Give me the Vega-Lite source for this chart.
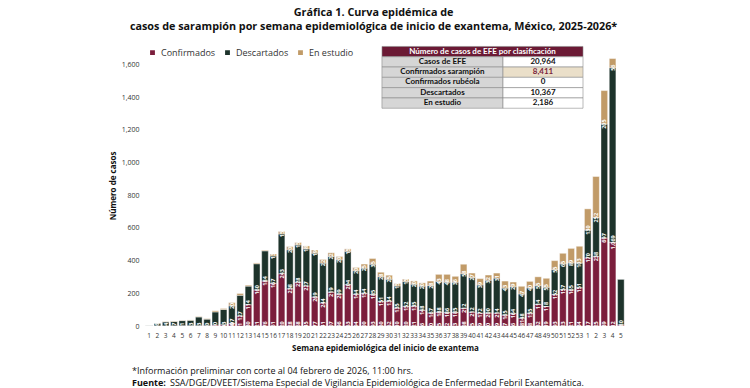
{
  "$schema": "https://vega.github.io/schema/vega-lite/v6.json",
  "padding": {"left": 109, "top": 7, "right": 10, "bottom": 4},
  "autosize": {"type": "pad"},
  "background": "white",
  "config": {
    "view": {"stroke": null},
    "font": "Open Sans",
    "axis": {"grid": false}
  },
  "title": {
    "text": ["Gráfica 1. Curva epidémica de", "casos de sarampión por semana epidemiológica de inicio de exantema, México, 2025-2026*"],
    "font": "Open Sans",
    "fontSize": 10.8,
    "fontWeight": "bold",
    "lineHeight": 14,
    "anchor": "middle",
    "offset": 13,
    "color": "#111111"
  },
  "center": true,
  "spacing": 12,
  "resolve": {"scale": {"color": "independent"}, "legend": {"color": "independent"}},
  "datasets": {
    "semanas": [
      {"semana": "2025-01", "Confirmados": 0, "Descartados": 3, "En estudio": 0},
      {"semana": "2025-02", "Confirmados": 1, "Descartados": 16, "En estudio": 1},
      {"semana": "2025-03", "Confirmados": 1, "Descartados": 24, "En estudio": 2},
      {"semana": "2025-04", "Confirmados": 1, "Descartados": 27, "En estudio": 2},
      {"semana": "2025-05", "Confirmados": 2, "Descartados": 31, "En estudio": 2},
      {"semana": "2025-06", "Confirmados": 2, "Descartados": 33, "En estudio": 2},
      {"semana": "2025-07", "Confirmados": 2, "Descartados": 53, "En estudio": 3},
      {"semana": "2025-08", "Confirmados": 2, "Descartados": 40, "En estudio": 3},
      {"semana": "2025-09", "Confirmados": 6, "Descartados": 80, "En estudio": 7},
      {"semana": "2025-10", "Confirmados": 8, "Descartados": 93, "En estudio": 6},
      {"semana": "2025-11", "Confirmados": 16, "Descartados": 107, "En estudio": 20},
      {"semana": "2025-12", "Confirmados": 61, "Descartados": 127, "En estudio": 11},
      {"semana": "2025-13", "Confirmados": 130, "Descartados": 114, "En estudio": 6},
      {"semana": "2025-14", "Confirmados": 221, "Descartados": 160, "En estudio": 5},
      {"semana": "2025-15", "Confirmados": 276, "Descartados": 184, "En estudio": 4},
      {"semana": "2025-16", "Confirmados": 261, "Descartados": 167, "En estudio": 13},
      {"semana": "2025-17", "Confirmados": 320, "Descartados": 243, "En estudio": 15},
      {"semana": "2025-18", "Confirmados": 228, "Descartados": 238, "En estudio": 20},
      {"semana": "2025-19", "Confirmados": 268, "Descartados": 228, "En estudio": 15},
      {"semana": "2025-20", "Confirmados": 245, "Descartados": 227, "En estudio": 18},
      {"semana": "2025-21", "Confirmados": 177, "Descartados": 269, "En estudio": 19},
      {"semana": "2025-22", "Confirmados": 141, "Descartados": 244, "En estudio": 22},
      {"semana": "2025-23", "Confirmados": 207, "Descartados": 219, "En estudio": 22},
      {"semana": "2025-24", "Confirmados": 196, "Descartados": 209, "En estudio": 20},
      {"semana": "2025-25", "Confirmados": 253, "Descartados": 204, "En estudio": 15},
      {"semana": "2025-26", "Confirmados": 194, "Descartados": 144, "En estudio": 20},
      {"semana": "2025-27", "Confirmados": 200, "Descartados": 154, "En estudio": 25},
      {"semana": "2025-28", "Confirmados": 193, "Descartados": 185, "En estudio": 35},
      {"semana": "2025-29", "Confirmados": 150, "Descartados": 151, "En estudio": 28},
      {"semana": "2025-30", "Confirmados": 152, "Descartados": 134, "En estudio": 25},
      {"semana": "2025-31", "Confirmados": 110, "Descartados": 135, "En estudio": 15},
      {"semana": "2025-32", "Confirmados": 120, "Descartados": 152, "En estudio": 15},
      {"semana": "2025-33", "Confirmados": 121, "Descartados": 135, "En estudio": 20},
      {"semana": "2025-34", "Confirmados": 96, "Descartados": 148, "En estudio": 20},
      {"semana": "2025-35", "Confirmados": 80, "Descartados": 167, "En estudio": 28},
      {"semana": "2025-36", "Confirmados": 85, "Descartados": 188, "En estudio": 43},
      {"semana": "2025-37", "Confirmados": 82, "Descartados": 186, "En estudio": 48},
      {"semana": "2025-38", "Confirmados": 83, "Descartados": 185, "En estudio": 36},
      {"semana": "2025-39", "Confirmados": 108, "Descartados": 212, "En estudio": 58},
      {"semana": "2025-40", "Confirmados": 85, "Descartados": 212, "En estudio": 27},
      {"semana": "2025-41", "Confirmados": 79, "Descartados": 172, "En estudio": 39},
      {"semana": "2025-42", "Confirmados": 80, "Descartados": 200, "En estudio": 32},
      {"semana": "2025-43", "Confirmados": 79, "Descartados": 214, "En estudio": 31},
      {"semana": "2025-44", "Confirmados": 67, "Descartados": 165, "En estudio": 43},
      {"semana": "2025-45", "Confirmados": 76, "Descartados": 164, "En estudio": 29},
      {"semana": "2025-46", "Confirmados": 48, "Descartados": 148, "En estudio": 47},
      {"semana": "2025-47", "Confirmados": 78, "Descartados": 155, "En estudio": 40},
      {"semana": "2025-48", "Confirmados": 132, "Descartados": 114, "En estudio": 55},
      {"semana": "2025-49", "Confirmados": 119, "Descartados": 118, "En estudio": 55},
      {"semana": "2025-50", "Confirmados": 193, "Descartados": 152, "En estudio": 55},
      {"semana": "2025-51", "Confirmados": 223, "Descartados": 157, "En estudio": 65},
      {"semana": "2025-52", "Confirmados": 221, "Descartados": 165, "En estudio": 89},
      {"semana": "2025-53", "Confirmados": 234, "Descartados": 151, "En estudio": 103},
      {"semana": "2026-01", "Confirmados": 417, "Descartados": 170, "En estudio": 130},
      {"semana": "2026-02", "Confirmados": 425, "Descartados": 238, "En estudio": 252},
      {"semana": "2026-03", "Confirmados": 539, "Descartados": 697, "En estudio": 205},
      {"semana": "2026-04", "Confirmados": 512, "Descartados": 1069, "En estudio": 56},
      {"semana": "2026-05", "Confirmados": 7, "Descartados": 280, "En estudio": 0}
    ],
    "tabla": [
      {"concepto": "Casos de EFE", "casos": 20964},
      {"concepto": "Confirmados sarampión", "casos": 8411},
      {"concepto": "Confirmados rubéola", "casos": 0},
      {"concepto": "Descartados", "casos": 10367},
      {"concepto": "En estudio", "casos": 2186}
    ],
    "notas": [
      {"linea": 1, "columna": "a", "tipo": "nota", "texto": "*Información preliminar con corte al 04 febrero de 2026, 11:00 hrs."},
      {"linea": 2, "columna": "a", "tipo": "etiqueta", "texto": "Fuente:"},
      {"linea": 2, "columna": "b", "tipo": "fuente", "texto": "SSA/DGE/DVEET/Sistema Especial de Vigilancia Epidemiológica de Enfermedad Febril Exantemática."}
    ]
  },
  "vconcat": [
    {
      "width": 480,
      "height": 281,
      "layer": [
        {
          "data": {"name": "semanas"},
          "transform": [
            {"fold": ["Confirmados", "Descartados", "En estudio"], "as": ["serie", "casos"]},
            {"stack": "casos", "groupby": ["semana"], "sort": [{"field": "serie", "order": "ascending"}], "as": ["y0", "y1"]}
          ],
          "encoding": {
            "x": {
              "field": "semana",
              "type": "ordinal",
              "scale": {"paddingInner": 0.2, "paddingOuter": 0.1},
              "axis": {
                "title": "Semana epidemiológica del inicio de exantema",
                "labelExpr": "toNumber(slice(datum.value, 5))",
                "labelAngle": 0,
                "labelFontSize": 6.5,
                "labelColor": "#333333",
                "labelOverlap": false,
                "labelPadding": 6,
                "domain": false,
                "ticks": false,
                "titleFontSize": 8,
                "titleFontWeight": "bold",
                "titleColor": "#111111",
                "titlePadding": 6
              }
            }
          },
          "layer": [
            {
              "mark": {"type": "bar", "stroke": "white", "strokeWidth": 0.4},
              "encoding": {
                "y": {
                  "field": "y0",
                  "type": "quantitative",
                  "scale": {"domain": [0, 1720], "nice": false},
                  "axis": {
                    "title": "Número de casos",
                    "values": [0, 200, 400, 600, 800, 1000, 1200, 1400, 1600],
                    "labelExpr": "format(datum.value, ',')",
                    "domain": false,
                    "ticks": false,
                    "labelFontSize": 7,
                    "labelColor": "#333333",
                    "labelPadding": 6,
                    "titleFontSize": 8,
                    "titleFontWeight": "bold",
                    "titleColor": "#111111",
                    "titlePadding": 4
                  }
                },
                "y2": {"field": "y1"},
                "color": {
                  "field": "serie",
                  "type": "nominal",
                  "scale": {"domain": ["Confirmados", "Descartados", "En estudio"], "range": ["#7b1e3c", "#1d332b", "#c19b68"]},
                  "legend": {
                    "title": null,
                    "orient": "top-left",
                    "direction": "horizontal",
                    "symbolType": "square",
                    "symbolSize": 40,
                    "labelFontSize": 9,
                    "labelColor": "#333333",
                    "columnPadding": 5,
                    "padding": 0,
                    "offset": 3
                  }
                }
              }
            },
            {
              "transform": [{"filter": "datum.casos >= 12"}],
              "mark": {"type": "text", "angle": 270, "color": "white", "fontSize": 5.5, "fontWeight": "bold", "align": "center", "baseline": "middle"},
              "encoding": {
                "y": {
                  "field": "y0",
                  "type": "quantitative",
                  "bin": "binned",
                  "scale": {"domain": [0, 1720], "nice": false},
                  "axis": {
                    "title": "Número de casos",
                    "values": [0, 200, 400, 600, 800, 1000, 1200, 1400, 1600],
                    "labelExpr": "format(datum.value, ',')",
                    "domain": false,
                    "ticks": false,
                    "labelFontSize": 7,
                    "labelColor": "#333333",
                    "labelPadding": 6,
                    "titleFontSize": 8,
                    "titleFontWeight": "bold",
                    "titleColor": "#111111",
                    "titlePadding": 4
                  }
                },
                "y2": {"field": "y1"},
                "text": {"field": "casos", "type": "quantitative", "format": ","}
              }
            }
          ]
        },
        {
          "data": {"values": [{"titulo": "Número de casos de EFE por clasificación"}]},
          "encoding": {
            "x": {"datum": "Encabezado", "type": "nominal", "scale": {"type": "band", "domain": ["h0", "Encabezado"], "paddingInner": 0, "paddingOuter": 0.194, "align": 0.4615}, "axis": null},
            "y": {"datum": "Encabezado", "type": "nominal", "scale": {"type": "band", "domain": ["Encabezado", "Casos de EFE", "Confirmados sarampión", "Confirmados rubéola", "Descartados", "En estudio", "v01", "v02", "v03", "v04", "v05", "v06", "v07", "v08", "v09", "v10", "v11", "v12", "v13", "v14", "v15", "v16", "v17", "v18", "v19", "v20", "v21"], "paddingInner": 0, "paddingOuter": 0.14, "align": 0.5}, "axis": null}
          },
          "layer": [
            {"mark": {"type": "rect", "fill": "#6b1a35", "stroke": "#8c8c8c", "strokeWidth": 0.6}},
            {"mark": {"type": "text", "font": "Lato", "fontWeight": "bold", "fontSize": 8, "color": "white"}, "encoding": {"text": {"field": "titulo"}}}
          ]
        },
        {
          "data": {"name": "tabla"},
          "encoding": {
            "x": {"datum": "Concepto", "type": "nominal", "scale": {"type": "band", "domain": ["c0", "Concepto", "c2"], "paddingInner": 0, "paddingOuter": 0.4835, "align": 0.991}, "axis": null},
            "y": {"field": "concepto", "type": "nominal", "scale": {"type": "band", "domain": ["Encabezado", "Casos de EFE", "Confirmados sarampión", "Confirmados rubéola", "Descartados", "En estudio", "v01", "v02", "v03", "v04", "v05", "v06", "v07", "v08", "v09", "v10", "v11", "v12", "v13", "v14", "v15", "v16", "v17", "v18", "v19", "v20", "v21"], "paddingInner": 0, "paddingOuter": 0.14, "align": 0.5}, "axis": null}
          },
          "layer": [
            {"mark": {"type": "rect", "fill": "#d6d6d6", "stroke": "#8c8c8c", "strokeWidth": 0.6}},
            {"mark": {"type": "text", "font": "Lato", "fontWeight": "bold", "fontSize": 8, "color": "#111111"}, "encoding": {"text": {"field": "concepto"}}}
          ]
        },
        {
          "data": {"name": "tabla"},
          "encoding": {
            "x": {"datum": "Valor", "type": "nominal", "scale": {"type": "band", "domain": ["w0", "w1", "w2", "w3", "Valor"], "paddingInner": 0, "paddingOuter": 0.5, "align": 0.475}, "axis": null},
            "y": {"field": "concepto", "type": "nominal", "scale": {"type": "band", "domain": ["Encabezado", "Casos de EFE", "Confirmados sarampión", "Confirmados rubéola", "Descartados", "En estudio", "v01", "v02", "v03", "v04", "v05", "v06", "v07", "v08", "v09", "v10", "v11", "v12", "v13", "v14", "v15", "v16", "v17", "v18", "v19", "v20", "v21"], "paddingInner": 0, "paddingOuter": 0.14, "align": 0.5}, "axis": null}
          },
          "layer": [
            {
              "mark": {"type": "rect", "stroke": "#8c8c8c", "strokeWidth": 0.6},
              "encoding": {"fill": {"condition": {"test": "datum.concepto === 'Confirmados sarampión'", "value": "#eadfc9"}, "value": "white"}}
            },
            {
              "mark": {"type": "text", "font": "Lato", "fontWeight": "bold", "fontSize": 8},
              "encoding": {
                "text": {"field": "casos", "type": "quantitative", "format": ","},
                "color": {"condition": {"test": "datum.concepto === 'Confirmados sarampión'", "value": "#7b1e3c"}, "value": "#111111"}
              }
            }
          ]
        }
      ],
      "resolve": {
        "scale": {"x": "independent", "y": "independent"},
        "axis": {"x": "independent", "y": "independent"}
      }
    },
    {
      "width": 506,
      "height": 24,
      "data": {"name": "notas"},
      "encoding": {
        "x": {"field": "columna", "type": "nominal", "bandPosition": 0, "axis": null, "scale": {"type": "band", "domain": ["a", "b", "n3", "n4", "n5", "n6", "n7", "n8", "n9", "n10", "n11", "n12"], "paddingInner": 0, "paddingOuter": 0.658, "align": 0}},
        "y": {"field": "linea", "type": "ordinal", "axis": null, "scale": {"type": "band", "paddingInner": 0, "paddingOuter": 0}},
        "text": {"field": "texto"}
      },
      "layer": [
        {
          "transform": [{"filter": "datum.tipo !== 'etiqueta'"}],
          "mark": {"type": "text", "align": "left", "baseline": "middle", "font": "Open Sans", "fontSize": 9, "color": "#111111"}
        },
        {
          "transform": [{"filter": "datum.tipo === 'etiqueta'"}],
          "mark": {"type": "text", "align": "left", "baseline": "middle", "font": "Open Sans", "fontSize": 9, "fontWeight": "bold", "color": "#111111"}
        }
      ]
    }
  ]
}
